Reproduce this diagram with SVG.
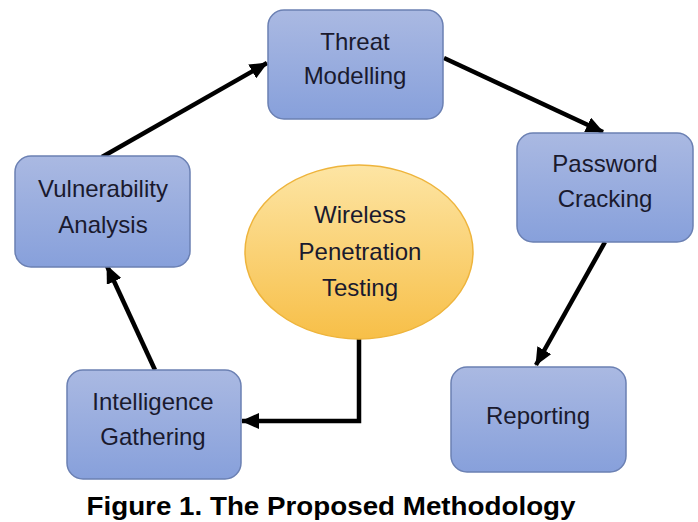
<svg xmlns="http://www.w3.org/2000/svg" width="698" height="522" viewBox="0 0 698 522">
<defs>
<linearGradient id="gBlue" x1="0" y1="0" x2="0" y2="1">
<stop offset="0" stop-color="#aab9e2"/>
<stop offset="1" stop-color="#87a0db"/>
</linearGradient>
<linearGradient id="gGold" x1="0" y1="0" x2="0" y2="1">
<stop offset="0" stop-color="#fde5a4"/>
<stop offset="1" stop-color="#f7bf48"/>
</linearGradient>
<marker id="ah" markerUnits="userSpaceOnUse" markerWidth="18" markerHeight="16" viewBox="0 0 18 16" refX="17" refY="8" orient="auto">
<path d="M0,0 L18,8 L0,16 Z" fill="#000"/>
</marker>
<style>
.box{fill:url(#gBlue);stroke:#6b80b3;stroke-width:1.5}
.lbl{font-family:"Liberation Sans",Arial,sans-serif;font-size:24px;fill:#1a1a2e;text-anchor:middle}
.conn{stroke:#000;stroke-width:4.5;fill:none;marker-end:url(#ah)}
.cap{font-family:"Liberation Sans",Arial,sans-serif;font-size:25px;font-weight:bold;fill:#000;text-anchor:middle}
</style>
</defs>
<rect width="698" height="522" fill="#fff"/>
<g id="connectors">
<line class="conn" x1="102" y1="157" x2="267" y2="63"/>
<line class="conn" x1="444" y1="58" x2="603" y2="132"/>
<line class="conn" x1="605" y1="242" x2="536" y2="365"/>
<polyline class="conn" points="359,338 359,421 242,421"/>
<line class="conn" x1="155" y1="370" x2="107" y2="266"/>
</g>
<g id="threat">
<rect class="box" x="268" y="10" width="175" height="109" rx="16"/>
<text class="lbl" x="355" y="50">Threat</text>
<text class="lbl" x="355" y="84">Modelling</text>
</g>
<g id="password">
<rect class="box" x="517" y="133" width="176" height="109" rx="16"/>
<text class="lbl" x="605" y="172">Password</text>
<text class="lbl" x="605" y="207">Cracking</text>
</g>
<g id="reporting">
<rect class="box" x="451" y="367" width="175" height="105" rx="16"/>
<text class="lbl" x="538" y="424">Reporting</text>
</g>
<g id="intelligence">
<rect class="box" x="67" y="370" width="174" height="109" rx="16"/>
<text class="lbl" x="153" y="410">Intelligence</text>
<text class="lbl" x="153" y="445">Gathering</text>
</g>
<g id="vulnerability">
<rect class="box" x="15" y="156" width="175" height="111" rx="16"/>
<text class="lbl" x="103" y="197">Vulnerability</text>
<text class="lbl" x="103" y="233">Analysis</text>
</g>
<g id="wireless">
<ellipse cx="359" cy="252" rx="114" ry="87" fill="url(#gGold)" stroke="#eeb43c" stroke-width="1.5"/>
<text class="lbl" x="360" y="223">Wireless</text>
<text class="lbl" x="360" y="260">Penetration</text>
<text class="lbl" x="360" y="296">Testing</text>
</g>
<text class="cap" x="331" y="515" textLength="489" lengthAdjust="spacingAndGlyphs">Figure 1. The Proposed Methodology</text>
</svg>
